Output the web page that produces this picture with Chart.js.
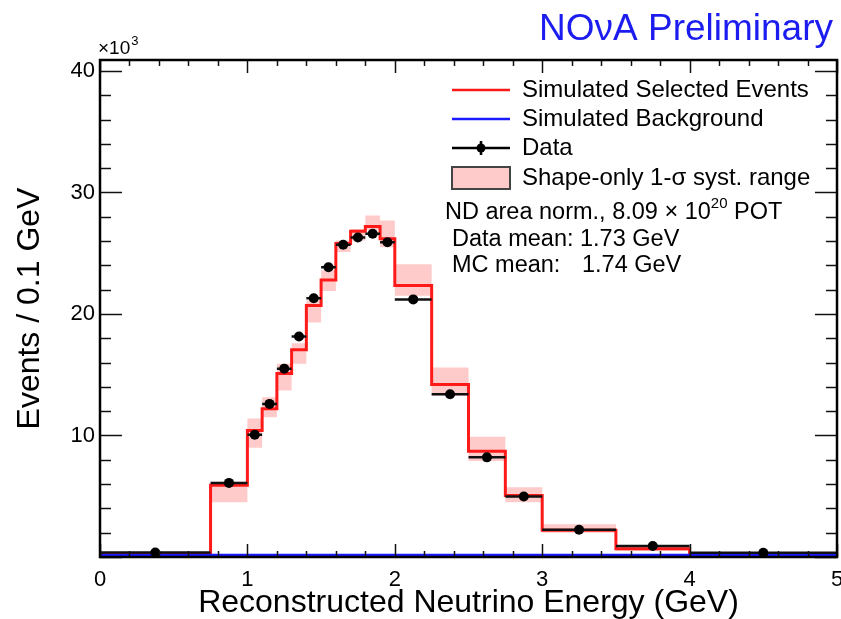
<!DOCTYPE html>
<html>
<head>
<meta charset="utf-8">
<title>NOvA reconstructed neutrino energy</title>
<script src="https://cdn.jsdelivr.net/npm/chart.js@4.4.0/dist/chart.umd.min.js"></script>
<style>
  html, body { margin: 0; padding: 0; background: #fff; }
  #wrap { width: 841px; height: 619px; position: relative; }
</style>
</head>
<body>
<div id="wrap"><canvas id="chart"></canvas></div>
<script>
// Bin edges (GeV), variable width
const binEdges = [0, 0.75, 1.0, 1.1, 1.2, 1.3, 1.4, 1.5, 1.6, 1.7, 1.8, 1.9, 2.0, 2.25, 2.5, 2.75, 3.0, 3.5, 4.0, 5.0];

// Events / 0.1 GeV, in units of 10^3
const mcSelected   = [0.26, 5.9, 10.4, 12.2, 15.1, 17.05, 20.7, 22.8, 25.8, 26.8, 27.2, 26.2, 22.35, 14.2, 8.7, 5.06, 2.2, 0.67, 0.26];
const mcBackground = [0.15, 0.15, 0.15, 0.15, 0.15, 0.15, 0.15, 0.15, 0.15, 0.15, 0.15, 0.15, 0.15, 0.15, 0.15, 0.15, 0.15, 0.15, 0.15];
const dataCounts   = [0.37, 6.1, 10.06, 12.6, 15.5, 18.15, 21.3, 23.85, 25.7, 26.3, 26.6, 25.9, 21.2, 13.4, 8.2, 4.98, 2.24, 0.9, 0.35];
const systLow      = [0.2, 4.5, 9.0, 11.5, 13.7, 15.9, 19.3, 21.9, 25.1, 26.05, 26.9, 25.5, 21.5, 13.3, 7.9, 4.5, 2.0, 0.5, 0.2];
const systHigh     = [0.32, 6.2, 11.4, 13.15, 15.9, 17.6, 21.1, 23.6, 26.05, 27.0, 28.1, 27.7, 24.1, 15.6, 9.9, 5.75, 2.7, 0.8, 0.32];

// Axis tick labels
const xTickLabels = [0, 1, 2, 3, 4, 5];
const yTickLabels = [10, 20, 30, 40];

const FONT = "'Liberation Sans', Arial, Helvetica, sans-serif";

// histogram -> stepped line points
function stepPoints(values) {
  const pts = values.map((v, i) => ({ x: binEdges[i], y: v }));
  pts.push({ x: binEdges[binEdges.length - 1], y: values[values.length - 1] });
  return pts;
}

// horizontal bin-width bars for the data, separated by gaps
function binBars(values) {
  const pts = [];
  values.forEach((v, i) => {
    pts.push({ x: binEdges[i], y: v });
    pts.push({ x: binEdges[i + 1], y: v });
    pts.push({ x: binEdges[i + 1], y: null });
  });
  return pts;
}

function binCentres(values) {
  return values.map((v, i) => ({ x: (binEdges[i] + binEdges[i + 1]) / 2, y: v }));
}

// frame and inward ticks on all four sides (ROOT style)
const frameTicks = {
  id: 'frameTicks',
  afterDatasetsDraw(chart) {
    const { ctx, chartArea: a, scales: { x, y } } = chart;
    ctx.save();
    ctx.strokeStyle = '#111';
    ctx.lineWidth = 1.5;
    const seg = (x1, y1, x2, y2) => { ctx.beginPath(); ctx.moveTo(x1, y1); ctx.lineTo(x2, y2); ctx.stroke(); };
    for (let i = 0; i <= 25; i++) {
      const px = Math.round(x.getPixelForValue(i * 0.2)) + 0.5;
      const len = i % 5 === 0 ? 13 : 6;
      seg(px, a.bottom, px, a.bottom - len);
      seg(px, a.top, px, a.top + len);
    }
    for (let i = 0; i <= 20; i++) {
      const py = Math.round(y.getPixelForValue(i * 2)) + 0.5;
      const len = i % 5 === 0 ? 22 : 11;
      seg(a.left, py, a.left + len, py);
      seg(a.right, py, a.right - len, py);
    }
    ctx.lineWidth = 2.5;
    ctx.strokeStyle = '#000';
    ctx.strokeRect(a.left, a.top, a.right - a.left, a.bottom - a.top);
    ctx.restore();
  }
};

// legend, labels and annotations
const annotations = {
  id: 'annotations',
  afterDraw(chart) {
    const { ctx, chartArea: a } = chart;
    ctx.save();
    ctx.textBaseline = 'middle';

    // exponent label of the y axis
    ctx.fillStyle = '#000';
    ctx.textAlign = 'left';
    ctx.font = '19px ' + FONT;
    ctx.fillText('\u00d710', a.left - 2, a.top - 11);
    const w10 = ctx.measureText('\u00d710').width;
    ctx.font = '13px ' + FONT;
    ctx.fillText('3', a.left - 2 + w10 + 1, a.top - 19);

    // experiment label
    ctx.fillStyle = '#1c1cf0';
    ctx.font = '37px ' + FONT;
    ctx.textAlign = 'right';
    ctx.fillText('NO\u03bdA Preliminary', 833, 30);

    // legend entries
    const mx1 = 452, mx2 = 510, tx = 522;
    const rows = [90, 119, 148, 178];
    ctx.textAlign = 'left';
    ctx.font = '24px ' + FONT;
    ctx.lineWidth = 2.5;

    ctx.strokeStyle = '#ff1a1a';
    ctx.beginPath(); ctx.moveTo(mx1, rows[0]); ctx.lineTo(mx2, rows[0]); ctx.stroke();
    ctx.strokeStyle = '#1a1aff';
    ctx.beginPath(); ctx.moveTo(mx1, rows[1]); ctx.lineTo(mx2, rows[1]); ctx.stroke();
    ctx.strokeStyle = '#000';
    ctx.beginPath(); ctx.moveTo(mx1, rows[2]); ctx.lineTo(mx2, rows[2]); ctx.stroke();
    ctx.beginPath(); ctx.moveTo((mx1 + mx2) / 2, rows[2] - 7); ctx.lineTo((mx1 + mx2) / 2, rows[2] + 7); ctx.stroke();
    ctx.fillStyle = '#000';
    ctx.beginPath(); ctx.arc((mx1 + mx2) / 2, rows[2], 4.5, 0, Math.PI * 2); ctx.fill();
    ctx.fillStyle = '#ffcaca';
    ctx.fillRect(mx1, rows[3] - 11, mx2 - mx1, 22);
    ctx.strokeStyle = '#444';
    ctx.lineWidth = 2;
    ctx.strokeRect(mx1, rows[3] - 11, mx2 - mx1, 22);

    ctx.fillStyle = '#000';
    ctx.fillText('Simulated Selected Events', tx, rows[0]);
    ctx.fillText('Simulated Background', tx, rows[1]);
    ctx.fillText('Data', tx, rows[2]);
    ctx.fillText('Shape-only 1-\u03c3 syst. range', tx, rows[3]);

    // normalisation and means
    ctx.font = '23.5px ' + FONT;
    let px = 445;
    const part1 = 'ND area norm., 8.09 \u00d7 10';
    ctx.fillText(part1, px, 213);
    px += ctx.measureText(part1).width;
    ctx.font = '15px ' + FONT;
    ctx.fillText('20', px, 204);
    px += ctx.measureText('20').width;
    ctx.font = '23.5px ' + FONT;
    ctx.fillText(' POT', px, 213);
    ctx.fillText('Data mean: 1.73 GeV', 452, 240);
    ctx.fillText('MC mean:', 452, 266);
    ctx.fillText('1.74 GeV', 582, 266);
    ctx.restore();
  }
};

const ctx = document.getElementById('chart').getContext('2d');
// first dataset is drawn on top, so the band comes last
new Chart(ctx, {
  type: 'line',
  data: {
    datasets: [
      {
        label: 'Data',
        data: binCentres(dataCounts),
        showLine: false,
        pointRadius: 5,
        pointBackgroundColor: '#000',
        pointBorderColor: '#000',
        pointBorderWidth: 0,
        fill: false
      },
      {
        label: 'Data bins',
        data: binBars(dataCounts),
        borderColor: '#111',
        borderWidth: 2.5,
        pointRadius: 0,
        spanGaps: false,
        fill: false
      },
      {
        label: 'Simulated Background',
        data: stepPoints(mcBackground),
        stepped: 'before',
        borderColor: '#1a1aff',
        borderWidth: 3,
        pointRadius: 0,
        fill: false
      },
      {
        label: 'Simulated Selected Events',
        data: stepPoints(mcSelected),
        stepped: 'before',
        borderColor: '#ff1a1a',
        borderWidth: 3,
        pointRadius: 0,
        fill: false
      },
      {
        label: 'syst high',
        data: stepPoints(systHigh),
        stepped: 'before',
        borderWidth: 0,
        borderColor: 'transparent',
        backgroundColor: '#ffcaca',
        pointRadius: 0,
        fill: '+1'
      },
      {
        label: 'syst low',
        data: stepPoints(systLow),
        stepped: 'before',
        borderWidth: 0,
        borderColor: 'transparent',
        pointRadius: 0,
        fill: false
      }
    ]
  },
  options: {
    responsive: true,
    maintainAspectRatio: false,
    animation: false,
    layout: { autoPadding: false, padding: { top: 60, right: 4, left: 0, bottom: 0 } },
    plugins: {
      legend: { display: false },
      tooltip: { enabled: false }
    },
    scales: {
      x: {
        type: 'linear',
        min: 0,
        max: 5,
        grid: { display: false, drawTicks: false },
        border: { display: false },
        ticks: {
          stepSize: 1,
          padding: 10,
          color: '#000',
          font: { family: FONT, size: 22 },
          callback: (v) => xTickLabels.includes(v) ? String(v) : ''
        },
        title: {
          display: true,
          text: 'Reconstructed Neutrino Energy (GeV)',
          color: '#000',
          font: { family: FONT, size: 32 },
          padding: { top: 0, bottom: -3 }
        },
        afterFit(scale) {
          scale.height = 62;
          scale.paddingLeft = 0;
          scale.paddingRight = 0;
        }
      },
      y: {
        type: 'linear',
        min: 0,
        max: 40.9,
        grid: { display: false, drawTicks: false },
        border: { display: false },
        ticks: {
          stepSize: 10,
          includeBounds: false,
          padding: 5,
          color: '#000',
          font: { family: FONT, size: 22 },
          callback: (v) => yTickLabels.includes(v) ? String(v) : ''
        },
        title: {
          display: true,
          text: 'Events / 0.1 GeV',
          color: '#000',
          font: { family: FONT, size: 32 },
          padding: { top: 11, bottom: 0 }
        },
        afterFit(scale) {
          scale.width = 100;
          scale.paddingTop = 0;
          scale.paddingBottom = 0;
        }
      }
    }
  },
  plugins: [frameTicks, annotations]
});
</script>
</body>
</html>
